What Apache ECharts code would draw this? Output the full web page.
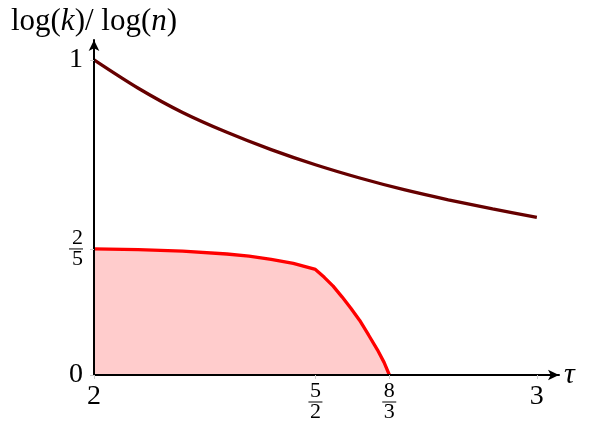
<!DOCTYPE html>
<html>
<head>
<meta charset="utf-8">
<script src="https://cdn.jsdelivr.net/npm/echarts@6/dist/echarts.min.js"></script>
<style>
    html, body { margin: 0; padding: 0; background: #fff; }
    #main { width: 590px; height: 430px; }
</style>
</head>
<body>
<div id="main"></div>
<script>
    // upper curve
    var topTau = [2, 2.1, 2.2, 2.3, 2.4, 2.5, 2.6, 2.7, 2.8, 2.9, 3];
    var topVal = [1, 0.91, 0.833, 0.77, 0.715, 0.667, 0.625, 0.588, 0.556, 0.527, 0.5];
    // lower (red) curve + shaded region
    var redTau = [2, 2.1, 2.2, 2.3, 2.35, 2.4, 2.45, 2.5, 2.52, 2.54, 2.56, 2.58, 2.6, 2.62, 2.64, 2.655, 2.667];
    var redVal = [0.4, 0.398, 0.393, 0.384, 0.377, 0.367, 0.354, 0.335, 0.31, 0.282, 0.248, 0.212, 0.173, 0.127, 0.08, 0.04, 0];
    // tick labels
    var xTicks = [2, 2.5, 8 / 3, 3];
    var xTickText = ['2', '5/2', '8/3', '3'];
    var yTicks = [0, 0.4, 1];
    var yTickText = ['0', '2/5', '1'];

    function pairs(xs, ys) {
        var out = [];
        for (var i = 0; i < xs.length; i++) out.push([xs[i], ys[i]]);
        return out;
    }
    function fmt(txt) {
        if (txt.indexOf('/') < 0) return '{b|' + txt + '}';
        var p = txt.split('/');
        return '{n|' + p[0] + '}\n{l|}\n{n|' + p[1] + '}';
    }
    function pick(ticks, texts, v) {
        for (var i = 0; i < ticks.length; i++) {
            if (Math.abs(ticks[i] - v) < 1e-6) return fmt(texts[i]);
        }
        return '';
    }

    var serif = 'Liberation Serif';
    var rich = {
        b: { fontFamily: serif, fontSize: 28, color: '#000', lineHeight: 28 },
        n: { fontFamily: serif, fontSize: 22, color: '#000', lineHeight: 17 },
        l: { width: 14, height: 1, backgroundColor: '#000', lineHeight: 4 }
    };

    var dom = document.getElementById('main');
    var myChart = echarts.init(dom);
    var option = {
        animation: false,
        grid: { left: 94, right: 31, top: 40, bottom: 55 },
        xAxis: {
            type: 'value', min: 2, max: 3.05, z: 5,
            name: 'τ', nameLocation: 'end', nameGap: 5,
            nameTextStyle: { fontFamily: serif, fontStyle: 'italic', fontSize: 30, color: '#000', verticalAlign: 'middle' },
            axisLine: { onZero: false, symbol: ['none', 'arrow'], symbolSize: [8, 11], lineStyle: { color: '#000', width: 2 } },
            axisTick: { show: true, customValues: xTicks, length: 4, lineStyle: { color: '#ccc' } },
            axisLabel: {
                customValues: xTicks, margin: 8,
                formatter: function (v) { return pick(xTicks, xTickText, v); },
                rich: rich
            },
            splitLine: { show: false }
        },
        yAxis: {
            type: 'value', min: 0, max: 1.063, z: 5,
            name: '{r|log(}{i|k}{r|)/ log(}{i|n}{r|)}', nameLocation: 'end', nameGap: 3,
            nameTextStyle: {
                align: 'center',
                rich: {
                    r: { fontFamily: serif, fontSize: 31, color: '#000' },
                    i: { fontFamily: serif, fontSize: 31, fontStyle: 'italic', color: '#000' }
                }
            },
            axisLine: { onZero: false, symbol: ['none', 'arrow'], symbolSize: [8, 11], lineStyle: { color: '#000', width: 2 } },
            axisTick: { show: true, customValues: yTicks, length: 4, lineStyle: { color: '#ccc' } },
            axisLabel: {
                customValues: yTicks, margin: 11,
                formatter: function (v) { return pick(yTicks, yTickText, v); },
                rich: rich
            },
            splitLine: { show: false }
        },
        series: [
            {
                name: 'upper',
                type: 'line',
                smooth: 0.3,
                showSymbol: false,
                lineStyle: { color: '#660000', width: 3.3 },
                data: pairs(topTau, topVal)
            },
            {
                name: 'lower',
                type: 'line',
                showSymbol: false,
                lineStyle: { color: '#ff0000', width: 3.3 },
                areaStyle: { color: '#ffcccc', opacity: 1 },
                data: pairs(redTau, redVal)
            }
        ]
    };
    if (option && typeof option === "object") {
        myChart.setOption(option, true);
    }
</script>
</body>
</html>
